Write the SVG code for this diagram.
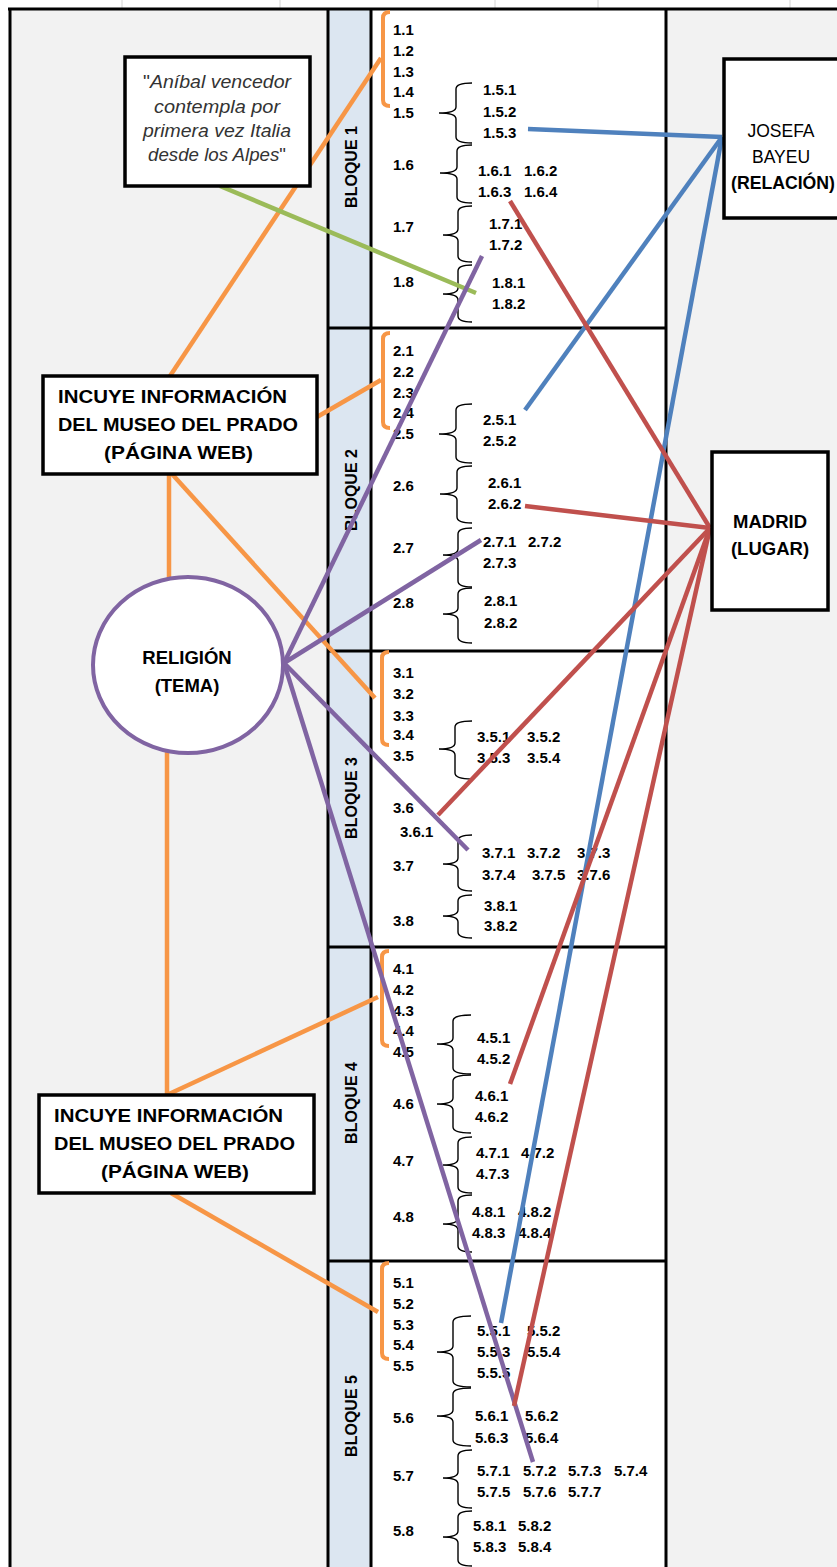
<svg xmlns="http://www.w3.org/2000/svg" width="837" height="1567" viewBox="0 0 837 1567">
<style>
.it{font-family:"Liberation Sans",Arial,sans-serif;font-weight:bold;font-size:15px;fill:#000}
.blk{font-family:"Liberation Sans",Arial,sans-serif;font-weight:bold;font-size:16px;fill:#000;text-anchor:middle}
.bx{font-family:"Liberation Sans",Arial,sans-serif;font-weight:bold;font-size:18.5px;fill:#000}
.q{font-family:"Liberation Sans",Arial,sans-serif;font-style:italic;font-size:18.5px;fill:#333;text-anchor:middle}
.frame{stroke:#000;stroke-width:3;fill:none}
.br{fill:none;stroke:#000;stroke-width:1.4}
.ob{fill:none;stroke:#f79646;stroke-width:4}
.node{fill:#fff;stroke:#000;stroke-width:3.5}
.cn{fill:none;stroke-width:4.5;stroke-linecap:butt}
.o{stroke:#f79646}.g{stroke:#9bbb59}.p{stroke:#8064a2}.b{stroke:#4f81bd}.r{stroke:#c0504d}
</style>
<rect x="0" y="0" width="837" height="1567" fill="#fff"/>
<rect x="10" y="9" width="827" height="1558" fill="#f2f2f2"/>
<rect x="371" y="9" width="295" height="1558" fill="#fff"/>
<rect x="328" y="9" width="43" height="1558" fill="#dce6f1"/>
<g stroke="#d4d4d4" stroke-width="1">
<line x1="122" y1="0" x2="122" y2="8"/><line x1="280" y1="0" x2="280" y2="8"/><line x1="495" y1="0" x2="495" y2="8"/><line x1="598" y1="0" x2="598" y2="8"/><line x1="790" y1="0" x2="790" y2="8"/>
</g>
<g id="grid" class="frame">
<line x1="8" y1="9" x2="837" y2="9"/>
<line x1="10" y1="8" x2="10" y2="1567"/>
<line x1="328" y1="8" x2="328" y2="1567"/>
<line x1="371" y1="8" x2="371" y2="1567"/>
<line x1="666" y1="8" x2="666" y2="1567"/>
<line x1="328" y1="328" x2="666" y2="328"/>
<line x1="328" y1="651" x2="666" y2="651"/>
<line x1="328" y1="947" x2="666" y2="947"/>
<line x1="328" y1="1261" x2="666" y2="1261"/>
</g>
<g id="block-labels">
<text class="blk" transform="translate(357,167) rotate(-90)">BLOQUE 1</text>
<text class="blk" transform="translate(357,490) rotate(-90)">BLOQUE 2</text>
<text class="blk" transform="translate(357,798) rotate(-90)">BLOQUE 3</text>
<text class="blk" transform="translate(357,1103) rotate(-90)">BLOQUE 4</text>
<text class="blk" transform="translate(357,1416) rotate(-90)">BLOQUE 5</text>
</g>
<g id="bloque1">
<path class="ob" d="M390,12 Q383,12 383,18 L383,100 Q383,106 390,106"/>
<text class="it" x="393" y="35">1.1</text><text class="it" x="393" y="56">1.2</text><text class="it" x="393" y="77">1.3</text><text class="it" x="393" y="97">1.4</text><text class="it" x="393" y="118">1.5</text>
<text class="it" x="393" y="170">1.6</text><text class="it" x="393" y="232">1.7</text><text class="it" x="393" y="287">1.8</text>
<path class="br" d="M472,83 Q456,83 456,89 L456,107 Q456,113 439,113 Q456,113 456,119 L456,137 Q456,143 472,143"/>
<path class="br" d="M472,145 Q457,145 457,151 L457,167 Q457,173 440,173 Q457,173 457,179 L457,197 Q457,203 472,203"/>
<path class="br" d="M472,206 Q458,206 458,212 L458,229 Q458,235 443,235 Q458,235 458,241 L458,256 Q458,262 472,262"/>
<path class="br" d="M472,265 Q458,265 458,271 L458,288 Q458,294 443,294 Q458,294 458,300 L458,316 Q458,322 472,322"/>
<text class="it" x="483" y="95">1.5.1</text><text class="it" x="483" y="117">1.5.2</text><text class="it" x="483" y="138">1.5.3</text>
<text class="it" x="478" y="176">1.6.1</text><text class="it" x="524" y="176">1.6.2</text><text class="it" x="478" y="197">1.6.3</text><text class="it" x="524" y="197">1.6.4</text>
<text class="it" x="489" y="229">1.7.1</text><text class="it" x="489" y="250">1.7.2</text>
<text class="it" x="492" y="288">1.8.1</text><text class="it" x="492" y="309">1.8.2</text>
</g>
<g id="bloque2">
<path class="ob" d="M390,333 Q383,333 383,339 L383,422 Q383,428 390,428"/>
<text class="it" x="393" y="356">2.1</text><text class="it" x="393" y="377">2.2</text><text class="it" x="393" y="398">2.3</text><text class="it" x="393" y="418">2.4</text><text class="it" x="393" y="439">2.5</text>
<text class="it" x="393" y="491">2.6</text><text class="it" x="393" y="553">2.7</text><text class="it" x="393" y="608">2.8</text>
<path class="br" d="M472,404 Q456,404 456,410 L456,428 Q456,434 439,434 Q456,434 456,440 L456,457 Q456,463 472,463"/>
<path class="br" d="M472,466 Q457,466 457,472 L457,488 Q457,494 440,494 Q457,494 457,500 L457,517 Q457,523 472,523"/>
<path class="br" d="M472,528 Q458,528 458,534 L458,549 Q458,555 443,555 Q458,555 458,561 L458,581 Q458,587 472,587"/>
<path class="br" d="M472,588 Q458,588 458,594 L458,608 Q458,614 443,614 Q458,614 458,620 L458,637 Q458,643 472,643"/>
<text class="it" x="483" y="425">2.5.1</text><text class="it" x="483" y="446">2.5.2</text>
<text class="it" x="488" y="488">2.6.1</text><text class="it" x="488" y="509">2.6.2</text>
<text class="it" x="483" y="547">2.7.1</text><text class="it" x="528" y="547">2.7.2</text><text class="it" x="483" y="568">2.7.3</text>
<text class="it" x="484" y="606">2.8.1</text><text class="it" x="484" y="628">2.8.2</text>
</g>
<g id="bloque3">
<path class="ob" d="M389,652 Q382,652 382,658 L382,739 Q382,745 389,745"/>
<text class="it" x="393" y="678">3.1</text><text class="it" x="393" y="699">3.2</text><text class="it" x="393" y="721">3.3</text><text class="it" x="393" y="740">3.4</text><text class="it" x="393" y="761">3.5</text>
<text class="it" x="393" y="813">3.6</text><text class="it" x="400" y="837">3.6.1</text><text class="it" x="393" y="871">3.7</text><text class="it" x="393" y="926">3.8</text>
<path class="br" d="M472,721 Q455,721 455,727 L455,743 Q455,749 439,749 Q455,749 455,755 L455,773 Q455,779 472,779"/>
<path class="br" d="M472,835 Q458,835 458,841 L458,858 Q458,864 443,864 Q458,864 458,870 L458,885 Q458,891 472,891"/>
<path class="br" d="M472,895 Q458,895 458,901 L458,910 Q458,916 443,916 Q458,916 458,922 L458,932 Q458,938 472,938"/>
<text class="it" x="477" y="742">3.5.1</text><text class="it" x="527" y="742">3.5.2</text><text class="it" x="477" y="763">3.5.3</text><text class="it" x="527" y="763">3.5.4</text>
<text class="it" x="482" y="858">3.7.1</text><text class="it" x="527" y="858">3.7.2</text><text class="it" x="577" y="858">3.7.3</text>
<text class="it" x="482" y="880">3.7.4</text><text class="it" x="532" y="880">3.7.5</text><text class="it" x="577" y="880">3.7.6</text>
<text class="it" x="484" y="911">3.8.1</text><text class="it" x="484" y="931">3.8.2</text>
</g>
<g id="bloque4">
<path class="ob" d="M389,951 Q382,951 382,957 L382,1040 Q382,1046 389,1046"/>
<text class="it" x="393" y="974">4.1</text><text class="it" x="393" y="995">4.2</text><text class="it" x="393" y="1016">4.3</text><text class="it" x="393" y="1036">4.4</text><text class="it" x="393" y="1057">4.5</text>
<text class="it" x="393" y="1109">4.6</text><text class="it" x="393" y="1166">4.7</text><text class="it" x="393" y="1222">4.8</text>
<path class="br" d="M471,1015 Q453,1015 453,1021 L453,1038 Q453,1044 437,1044 Q453,1044 453,1050 L453,1068 Q453,1074 471,1074"/>
<path class="br" d="M471,1075 Q453,1075 453,1081 L453,1098 Q453,1104 437,1104 Q453,1104 453,1110 L453,1127 Q453,1133 471,1133"/>
<path class="br" d="M472,1137 Q458,1137 458,1143 L458,1159 Q458,1165 443,1165 Q458,1165 458,1171 L458,1187 Q458,1193 472,1193"/>
<path class="br" d="M472,1195 Q458,1195 458,1201 L458,1218 Q458,1224 443,1224 Q458,1224 458,1230 L458,1246 Q458,1252 472,1252"/>
<text class="it" x="477" y="1043">4.5.1</text><text class="it" x="477" y="1064">4.5.2</text>
<text class="it" x="475" y="1101">4.6.1</text><text class="it" x="475" y="1122">4.6.2</text>
<text class="it" x="476" y="1158">4.7.1</text><text class="it" x="521" y="1158">4.7.2</text><text class="it" x="476" y="1179">4.7.3</text>
<text class="it" x="472" y="1217">4.8.1</text><text class="it" x="518" y="1217">4.8.2</text><text class="it" x="472" y="1238">4.8.3</text><text class="it" x="518" y="1238">4.8.4</text>
</g>
<g id="bloque5">
<path class="ob" d="M389,1263 Q382,1263 382,1269 L382,1353 Q382,1359 389,1359"/>
<text class="it" x="393" y="1288">5.1</text><text class="it" x="393" y="1309">5.2</text><text class="it" x="393" y="1330">5.3</text><text class="it" x="393" y="1350">5.4</text><text class="it" x="393" y="1371">5.5</text>
<text class="it" x="393" y="1423">5.6</text><text class="it" x="393" y="1481">5.7</text><text class="it" x="393" y="1536">5.8</text>
<path class="br" d="M471,1316 Q453,1316 453,1322 L453,1346 Q453,1352 437,1352 Q453,1352 453,1358 L453,1381 Q453,1387 471,1387"/>
<path class="br" d="M471,1388 Q453,1388 453,1394 L453,1410 Q453,1416 437,1416 Q453,1416 453,1422 L453,1440 Q453,1446 471,1446"/>
<path class="br" d="M472,1450 Q458,1450 458,1456 L458,1472 Q458,1478 443,1478 Q458,1478 458,1484 L458,1502 Q458,1508 472,1508"/>
<path class="br" d="M472,1511 Q458,1511 458,1517 L458,1531 Q458,1537 443,1537 Q458,1537 458,1543 L458,1560 Q458,1566 472,1566"/>
<text class="it" x="477" y="1336">5.5.1</text><text class="it" x="527" y="1336">5.5.2</text><text class="it" x="477" y="1357">5.5.3</text><text class="it" x="527" y="1357">5.5.4</text><text class="it" x="477" y="1378">5.5.5</text>
<text class="it" x="475" y="1421">5.6.1</text><text class="it" x="525" y="1421">5.6.2</text><text class="it" x="475" y="1443">5.6.3</text><text class="it" x="525" y="1443">5.6.4</text>
<text class="it" x="477" y="1476">5.7.1</text><text class="it" x="523" y="1476">5.7.2</text><text class="it" x="568" y="1476">5.7.3</text><text class="it" x="614" y="1476">5.7.4</text>
<text class="it" x="477" y="1497">5.7.5</text><text class="it" x="523" y="1497">5.7.6</text><text class="it" x="568" y="1497">5.7.7</text>
<text class="it" x="473" y="1531">5.8.1</text><text class="it" x="518" y="1531">5.8.2</text><text class="it" x="473" y="1552">5.8.3</text><text class="it" x="518" y="1552">5.8.4</text>
</g>
<g id="connectors" class="cn">
<line class="o" x1="170" y1="376" x2="381" y2="58"/>
<line class="o" x1="317" y1="417" x2="381" y2="380"/>
<line class="o" x1="172" y1="474" x2="375" y2="698"/>
<line class="o" x1="169" y1="474" x2="169" y2="578"/>
<line class="o" x1="167" y1="752" x2="167" y2="1095"/>
<line class="o" x1="169" y1="1094" x2="378" y2="997"/>
<line class="o" x1="171" y1="1193" x2="378" y2="1312"/>
<line class="g" x1="220" y1="186" x2="476" y2="293"/>
<line class="p" x1="284" y1="663" x2="482" y2="256"/>
<line class="p" x1="284" y1="663" x2="481" y2="540"/>
<line class="p" x1="284" y1="663" x2="468" y2="850"/>
<line class="p" x1="284" y1="663" x2="533" y2="1462"/>
<line class="b" x1="722" y1="137" x2="528" y2="129"/>
<line class="b" x1="722" y1="137" x2="525" y2="410"/>
<line class="b" x1="722" y1="137" x2="501" y2="1323"/>
<line class="r" x1="710" y1="528" x2="510" y2="201"/>
<line class="r" x1="710" y1="528" x2="525" y2="506"/>
<line class="r" x1="710" y1="528" x2="438" y2="815"/>
<line class="r" x1="710" y1="528" x2="510" y2="1084"/>
<line class="r" x1="710" y1="528" x2="514" y2="1406"/>
</g>
<g id="cita">
<rect class="node" x="125" y="57" width="185" height="129"/>
<text class="q" x="217" y="88" textLength="148" lengthAdjust="spacingAndGlyphs"><tspan font-style="normal">"</tspan>Aníbal vencedor</text>
<text class="q" x="217" y="113" textLength="126" lengthAdjust="spacingAndGlyphs">contempla por</text>
<text class="q" x="217" y="137" textLength="148" lengthAdjust="spacingAndGlyphs">primera vez Italia</text>
<text class="q" x="217" y="161" textLength="138" lengthAdjust="spacingAndGlyphs">desde los Alpes<tspan font-style="normal">"</tspan></text>
</g>
<g id="incuye1">
<rect class="node" x="43" y="376" width="274" height="98"/>
<text class="bx" x="58" y="403" textLength="229" lengthAdjust="spacingAndGlyphs">INCUYE INFORMACIÓN</text>
<text class="bx" x="58" y="431" textLength="240" lengthAdjust="spacingAndGlyphs">DEL MUSEO DEL PRADO</text>
<text class="bx" x="104" y="459" textLength="149" lengthAdjust="spacingAndGlyphs">(PÁGINA WEB)</text>
</g>
<g id="incuye2">
<rect class="node" x="39" y="1095" width="275" height="98"/>
<text class="bx" x="54" y="1122" textLength="229" lengthAdjust="spacingAndGlyphs">INCUYE INFORMACIÓN</text>
<text class="bx" x="54" y="1150" textLength="241" lengthAdjust="spacingAndGlyphs">DEL MUSEO DEL PRADO</text>
<text class="bx" x="101" y="1178" textLength="148" lengthAdjust="spacingAndGlyphs">(PÁGINA WEB)</text>
</g>
<g id="religion">
<ellipse cx="188" cy="665" rx="95" ry="88" fill="#fff" stroke="#8064a2" stroke-width="4"/>
<text class="bx" x="187" y="664" text-anchor="middle">RELIGIÓN</text>
<text class="bx" x="187" y="692" text-anchor="middle">(TEMA)</text>
</g>
<g id="josefa">
<rect class="node" x="724" y="59" width="130" height="159"/>
<text x="781" y="137" text-anchor="middle" font-family="Liberation Sans, Arial, sans-serif" font-size="17.5" fill="#000">JOSEFA</text>
<text x="781" y="163" text-anchor="middle" font-family="Liberation Sans, Arial, sans-serif" font-size="17.5" fill="#000">BAYEU</text>
<text class="bx" x="731" y="189" textLength="104" lengthAdjust="spacingAndGlyphs">(RELACIÓN)</text>
</g>
<g id="madrid">
<rect class="node" x="712" y="452" width="116" height="158"/>
<text class="bx" x="770" y="528" text-anchor="middle">MADRID</text>
<text class="bx" x="770" y="555" text-anchor="middle">(LUGAR)</text>
</g>
</svg>
